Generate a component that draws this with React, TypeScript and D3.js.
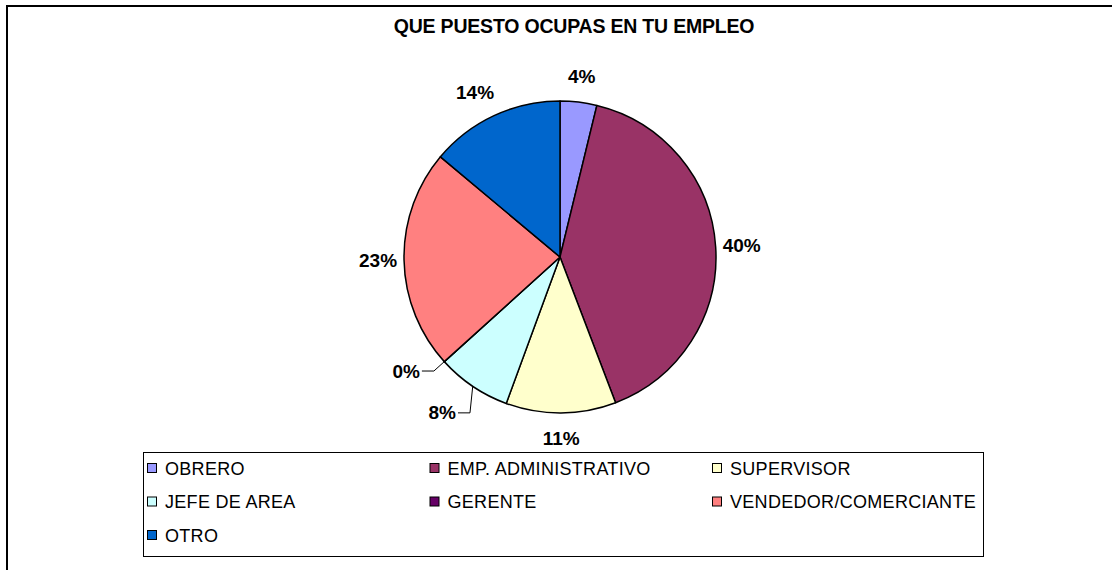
import React, { useRef, useEffect } from 'react';
import * as d3 from 'd3';

// chart data
const title = 'QUE PUESTO OCUPAS EN TU EMPLEO';
const categories = [
  'OBRERO',
  'EMP. ADMINISTRATIVO',
  'SUPERVISOR',
  'JEFE DE AREA',
  'GERENTE',
  'VENDEDOR/COMERCIANTE',
  'OTRO',
];
const shares = [3.8, 40.4, 11.4, 7.7, 0, 22.8, 13.9];
const colors = ['#9999FF', '#993366', '#FFFFCC', '#CCFFFF', '#660066', '#FF8080', '#0066CC'];

const App = () => {
  const svgRef = useRef<SVGSVGElement | null>(null);

  useEffect(() => {
    const width = 1112;
    const height = 570;
    const cx = 560;
    const cy = 257;
    const radius = 156;
    const font = '"Liberation Sans", Arial, sans-serif';

    const svg = d3.select(svgRef.current)
      .attr('width', width)
      .attr('height', height);

    svg.selectAll('*').remove();

    // outer chart border (runs off the page on right/bottom)
    svg.append('rect')
      .attr('x', 7)
      .attr('y', 6)
      .attr('width', width + 20)
      .attr('height', height + 20)
      .attr('fill', '#fff')
      .attr('stroke', '#000')
      .attr('stroke-width', 2);

    svg.append('text')
      .attr('x', 574)
      .attr('y', 33)
      .attr('text-anchor', 'middle')
      .attr('font-family', font)
      .attr('font-weight', 'bold')
      .attr('font-size', 19.5)
      .attr('letter-spacing', -0.2)
      .text(title);

    const data = categories.map((c, i) => ({ name: c, value: shares[i], color: colors[i] }));

    const pie = d3.pie<any>()
      .sort(null)
      .value(d => d.value);
    const arcs = pie(data);

    const arc = d3.arc<any>()
      .innerRadius(0)
      .outerRadius(radius);

    const g = svg.append('g').attr('transform', `translate(${cx},${cy})`);

    g.selectAll('path')
      .data(arcs)
      .join('path')
      .attr('d', arc)
      .attr('fill', d => d.data.color)
      .attr('stroke', '#000')
      .attr('stroke-width', 1.5)
      .attr('stroke-linejoin', 'round');

    const pt = (a: number, r: number) => [r * Math.sin(a), -r * Math.cos(a)];

    // percentage labels
    arcs.forEach((d, i) => {
      const mid = (d.startAngle + d.endAngle) / 2;
      const label = `${Math.round(d.data.value)}%`;
      if (d.data.value < 9 && i >= 3) {
        // small slices on the lower left get a leader line
        const start = pt(mid, radius);
        const elbow = d.data.value === 0 ? pt(mid, 170) : pt(mid - 0.07, 180);
        const endX = elbow[0] - 12;
        g.append('polyline')
          .attr('points', `${start[0]},${start[1]} ${elbow[0]},${elbow[1]} ${endX},${elbow[1]}`)
          .attr('fill', 'none')
          .attr('stroke', '#000')
          .attr('stroke-width', 1);
        g.append('text')
          .attr('x', endX - 2)
          .attr('y', elbow[1] + 6.5)
          .attr('text-anchor', 'end')
          .attr('font-family', font)
          .attr('font-weight', 'bold')
          .attr('font-size', 19)
          .text(label);
      } else {
        const shift = mid > 5.5 ? -8 : 0;
        const p = pt(mid, 182);
        g.append('text')
          .attr('x', p[0] + shift)
          .attr('y', p[1] + 6.5)
          .attr('text-anchor', 'middle')
          .attr('font-family', font)
          .attr('font-weight', 'bold')
          .attr('font-size', 19)
          .text(label);
      }
    });

    // legend
    const legend = svg.append('g');
    legend.append('rect')
      .attr('x', 143.5)
      .attr('y', 452.5)
      .attr('width', 840)
      .attr('height', 104)
      .attr('fill', '#fff')
      .attr('stroke', '#000')
      .attr('stroke-width', 1);

    const colX = d3.scalePoint<number>().domain([0, 1, 2]).range([147, 712]);
    const rowY = d3.scalePoint<number>().domain([0, 1, 2]).range([468, 535]);

    data.forEach((d, i) => {
      const x = colX(i % 3) as number;
      const y = rowY(Math.floor(i / 3)) as number;
      legend.append('rect')
        .attr('x', x + 0.5)
        .attr('y', y - 4.5)
        .attr('width', 9)
        .attr('height', 9)
        .attr('fill', d.color)
        .attr('stroke', '#000')
        .attr('stroke-width', 1);
      legend.append('text')
        .attr('x', x + 18)
        .attr('y', y + 6.5)
        .attr('font-family', font)
        .attr('font-size', 18)
        .attr('letter-spacing', 0.3)
        .text(d.name);
    });
  }, []);

  return (
    <svg ref={svgRef} style={{ position: 'absolute', left: 0, top: 0 }}></svg>
  );
};

export default App;
